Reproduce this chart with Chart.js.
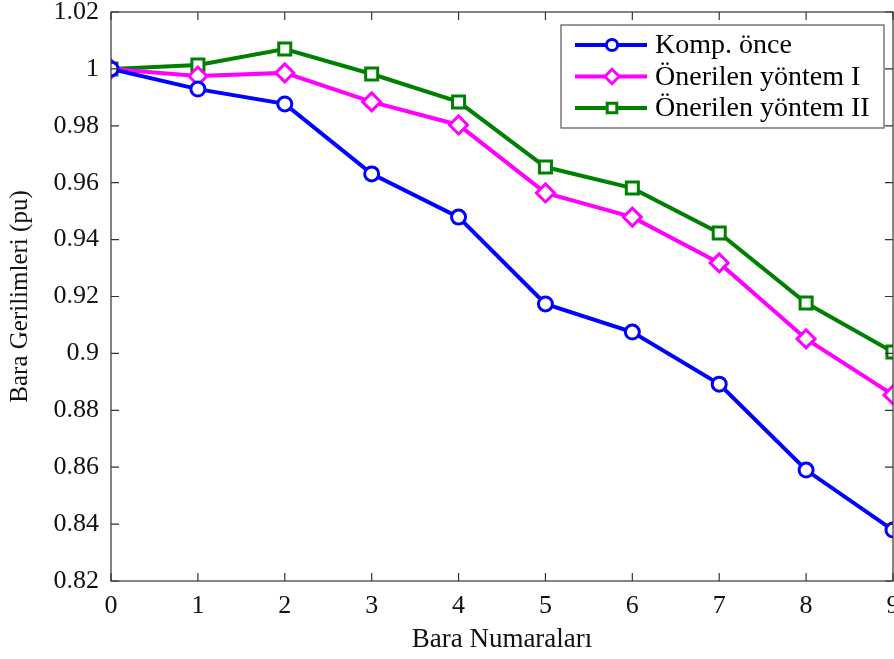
<!DOCTYPE html>
<html>
<head>
<meta charset="utf-8">
<script src="https://cdn.jsdelivr.net/npm/chart.js@4/dist/chart.umd.min.js"></script>
<style>
  html, body { margin: 0; padding: 0; background: #fff; overflow: hidden; }
  #wrap { width: 894px; height: 659px; }
  canvas { display: block; }
</style>
</head>
<body>
<div id="wrap"><canvas id="c"></canvas></div>
<script>
// bara numaraları ve gerilim değerleri (pu)
const bars = [0, 1, 2, 3, 4, 5, 6, 7, 8, 9];
const kompOnce = [1.0, 0.9929, 0.9877, 0.9631, 0.9479, 0.9174, 0.9075, 0.8892, 0.8590, 0.8379];
const yontem1 = [1.0, 0.9975, 0.9986, 0.9884, 0.9803, 0.9564, 0.9479, 0.9318, 0.9051, 0.8854];
const yontem2 = [1.0, 1.0014, 1.0070, 0.9982, 0.9884, 0.9655, 0.9581, 0.9423, 0.9177, 0.9005];
const seriesNames = ["Komp. önce", "Önerilen yöntem I", "Önerilen yöntem II"];

const FONT = "'Liberation Serif', 'Times New Roman', serif";
const AXIS = "#333";
const PLOT_RIGHT = 893;   // sağ kenar, son bara (9) burada

const toPoints = vals => vals.map((v, i) => ({ x: bars[i], y: v }));

function series(label, vals, color, style, r) {
    return {
        label: label,
        data: toPoints(vals),
        borderColor: color,
        backgroundColor: color,
        borderWidth: 4,
        pointStyle: style,
        pointRadius: r,
        pointBorderWidth: 3,
        pointBorderColor: color,
        pointBackgroundColor: "#fff",
        tension: 0
    };
}

// kutu, içe bakan tikler ve matlab tarzı gösterge
const boxPlugin = {
    id: "box",
    afterDraw(chart) {
        const { ctx, chartArea: a, scales } = chart;
        ctx.save();
        ctx.strokeStyle = AXIS;
        ctx.lineWidth = 1.2;
        ctx.strokeRect(a.left, a.top, a.right - a.left, a.bottom - a.top);
        const len = 8;
        ctx.beginPath();
        scales.x.ticks.forEach(t => {
            const px = scales.x.getPixelForValue(t.value);
            ctx.moveTo(px, a.bottom); ctx.lineTo(px, a.bottom - len);
            ctx.moveTo(px, a.top); ctx.lineTo(px, a.top + len);
        });
        scales.y.ticks.forEach(t => {
            const py = scales.y.getPixelForValue(t.value);
            ctx.moveTo(a.left, py); ctx.lineTo(a.left + len, py);
            ctx.moveTo(a.right, py); ctx.lineTo(a.right - len, py);
        });
        ctx.stroke();

        // gösterge
        const lx = 561, ly = 25, lw = 323, lh = 103;
        ctx.fillStyle = "#fff";
        ctx.fillRect(lx, ly, lw, lh);
        ctx.strokeStyle = "#555";
        ctx.lineWidth = 1.2;
        ctx.strokeRect(lx, ly, lw, lh);
        ctx.font = "28px " + FONT;
        ctx.textBaseline = "middle";
        chart.data.datasets.forEach((ds, i) => {
            const y = 45 + i * 31.5;
            ctx.strokeStyle = ds.borderColor;
            ctx.lineWidth = 4;
            ctx.beginPath();
            ctx.moveTo(575, y); ctx.lineTo(647, y);
            ctx.stroke();
            ctx.fillStyle = "#fff";
            ctx.lineWidth = 3;
            Chart.helpers.drawPoint(ctx, {
                pointStyle: ds.pointStyle,
                radius: ds.pointRadius * 0.8,
                borderWidth: 3,
                rotation: 0
            }, 612, y);
            ctx.fillStyle = "#000";
            ctx.fillText(ds.label, 655, y + 1);
        });
        ctx.restore();
    }
};

const chart = new Chart(document.getElementById("c"), {
    type: "line",
    data: {
        datasets: [
            series(seriesNames[0], kompOnce, "#0000ff", "circle", 7),
            series(seriesNames[1], yontem1, "#ff00ff", "rectRot", 9),
            series(seriesNames[2], yontem2, "#008000", "rect", 8.5)
        ]
    },
    options: {
        responsive: true,
        maintainAspectRatio: false,
        animation: false,
        layout: { padding: { top: 12, right: 1, left: 0, bottom: 0 } },
        plugins: {
            legend: { display: false },
            tooltip: { enabled: false }
        },
        scales: {
            x: {
                type: "linear",
                min: 0,
                max: 9,
                grid: { display: false, drawTicks: false },
                border: { display: false },
                ticks: {
                    stepSize: 1,
                    padding: 10,
                    color: "#111",
                    font: { family: FONT, size: 26 },
                    maxRotation: 0
                },
                title: {
                    display: true,
                    text: "Bara Numaraları",
                    color: "#111",
                    font: { family: FONT, size: 27 },
                    padding: { top: 0, bottom: 3 }
                },
                afterFit(s) {
                    s.height = 78;
                    s.paddingLeft = 0;
                    s.paddingRight = 0;
                }
            },
            y: {
                min: 0.82,
                max: 1.02,
                grid: { display: false, drawTicks: false },
                border: { display: false },
                ticks: {
                    stepSize: 0.02,
                    padding: 12,
                    color: "#111",
                    font: { family: FONT, size: 26 },
                    callback: v => String(Number(v.toFixed(2)))
                },
                title: {
                    display: true,
                    text: "Bara Gerilimleri (pu)",
                    color: "#111",
                    font: { family: FONT, size: 25 },
                    padding: { top: 5, bottom: 0 }
                },
                afterFit(s) {
                    s.width = 111;
                    s.paddingTop = 0;
                    s.paddingBottom = 0;
                }
            }
        }
    },
    plugins: [boxPlugin]
});

// son etiket için ayrılan boşluğu kaldır: eksen kenara kadar uzansın
const gap = PLOT_RIGHT - chart.chartArea.right;
if (Math.abs(gap) > 0.5) {
    document.getElementById("wrap").style.width = (894 + gap) + "px";
    chart.resize();
}
</script>
</body>
</html>
